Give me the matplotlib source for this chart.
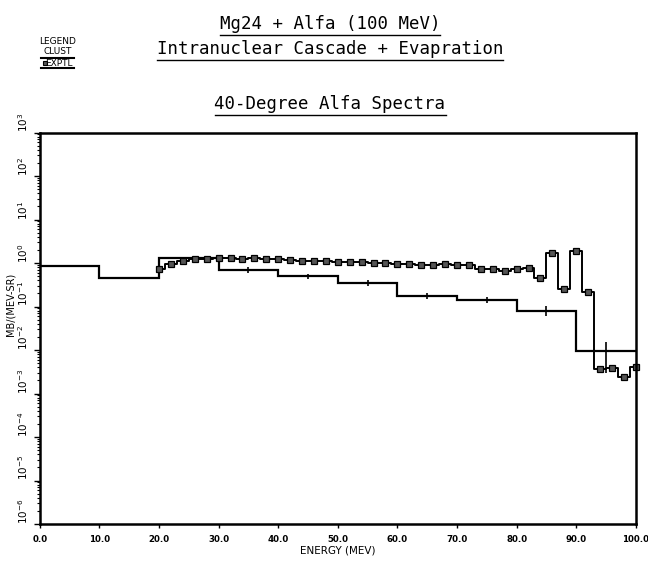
import matplotlib
matplotlib.use("Agg")
import matplotlib.pyplot as plt
from matplotlib.lines import Line2D

# CLUST (theory) histogram, 10 MeV bins
clust_edges = [0, 10, 20, 30, 40, 50, 60, 70, 80, 90, 100]
clust_vals = [0.87, 0.445, 1.32, 0.69, 0.50, 0.347, 0.174, 0.141, 0.079, 0.0095]
clust_mid = [5, 15, 25, 35, 45, 55, 65, 75, 85, 95]
clust_lo = [0.84, 0.43, 1.28, 0.60, 0.44, 0.30, 0.15, 0.12, 0.060, 0.0029]
clust_hi = [0.90, 0.46, 1.36, 0.79, 0.57, 0.40, 0.20, 0.165, 0.105, 0.0155]

# EXPTL points, 2 MeV apart
exptl_e = [20, 22, 24, 26, 28, 30, 32, 34, 36, 38, 40, 42, 44, 46, 48, 50,
           52, 54, 56, 58, 60, 62, 64, 66, 68, 70, 72, 74, 76, 78, 80, 82,
           84, 86, 88, 90, 92, 94, 96, 98, 100]
exptl_vals = [0.72, 0.95, 1.11, 1.22, 1.25, 1.32, 1.28, 1.25, 1.28, 1.24, 1.22,
              1.17, 1.13, 1.11, 1.11, 1.07, 1.05, 1.04, 1.00, 0.975, 0.95,
              0.93, 0.90, 0.90, 0.95, 0.90, 0.90, 0.73, 0.72, 0.67, 0.73,
              0.755, 0.46, 1.67, 0.25, 1.92, 0.22, 0.0036, 0.0039, 0.0024, 0.0041]

x_ticks = [0, 10, 20, 30, 40, 50, 60, 70, 80, 90, 100]
x_labels = ["0.0", "10.0", "20.0", "30.0", "40.0", "50.0", "60.0", "70.0", "80.0", "90.0", "100.0"]
y_exps = [-6, -5, -4, -3, -2, -1, 0, 1, 2, 3]

W, H = 648, 563
fig = plt.figure(figsize=(W / 100, H / 100), dpi=100)
ax = fig.add_axes([39.8 / W, 1 - 524 / H, 596 / W, 391.5 / H])

ax.stairs(clust_vals, clust_edges, baseline=None, color="black", lw=1.6)
ax.errorbar(clust_mid, clust_vals,
            yerr=[[v - l for v, l in zip(clust_vals, clust_lo)],
                  [h - v for v, h in zip(clust_vals, clust_hi)]],
            fmt="none", ecolor="black", elinewidth=1.2, capsize=0)
ax.plot(exptl_e, exptl_vals, drawstyle="steps-mid", color="black", lw=1.4)
ax.plot(exptl_e, exptl_vals, ls="none", marker="s", ms=4.5,
        mfc="#555555", mec="black", mew=0.9, clip_on=False)

ax.set_yscale("log")
ax.set_xlim(0, 100)
ax.set_ylim(1e-6, 1e3)
ax.set_xticks(x_ticks)
ax.set_xticklabels(x_labels, fontsize=6.2, fontweight="bold")
ax.set_yticks([10.0 ** k for k in y_exps])
ax.set_yticklabels([r"$10^{%d}$" % k for k in y_exps], fontsize=7.5, rotation=90)
for lab in ax.get_yticklabels():
    lab.set_va("bottom")
ax.tick_params(axis="x", direction="out", length=3, width=1, pad=5)
ax.tick_params(axis="y", which="major", direction="out", length=4, width=1, pad=3)
ax.tick_params(axis="y", which="minor", direction="out", length=2, width=0.8)
for s in ax.spines.values():
    s.set_linewidth(1.8)

ax.set_xlabel("ENERGY (MEV)", fontsize=7.5, labelpad=1)
fig.text(11 / W, 1 - 304 / H, "MB/(MEV-SR)", rotation=90, fontsize=7,
         ha="center", va="center")

# titles, underlined
titles = [("Mg24 + Alfa (100 MeV)", 24), ("Intranuclear Cascade + Evapration", 49),
          ("40-Degree Alfa Spectra", 104)]
tobjs = []
for txt, yp in titles:
    tobjs.append(fig.text(330 / W, 1 - yp / H, txt, fontsize=12.5,
                          family="DejaVu Sans Mono", ha="center", va="center"))

# legend block
fig.text(58 / W, 1 - 42 / H, "LEGEND", fontsize=6.5, ha="center", va="center")
fig.text(58 / W, 1 - 52 / H, "CLUST", fontsize=6.5, ha="center", va="center")
fig.text(59 / W, 1 - 63 / H, "EXPTL", fontsize=6.5, ha="center", va="center")
fig.add_artist(Line2D([41 / W, 74 / W], [1 - 58 / H, 1 - 58 / H], color="black", lw=1.5))
fig.add_artist(Line2D([41 / W, 74 / W], [1 - 68 / H, 1 - 68 / H], color="black", lw=1.5))
fig.add_artist(Line2D([45 / W], [1 - 63 / H], ls="none", marker="s", ms=3.5,
                      mfc="#555555", mec="black", mew=0.8))

fig.canvas.draw()
r = fig.canvas.get_renderer()
for t in tobjs:
    bb = t.get_window_extent(r)
    yl = (bb.y0 - 2) / H
    fig.add_artist(Line2D([bb.x0 / W, bb.x1 / W], [yl, yl], color="black", lw=1.0))

fig.savefig("out.png", dpi=100)
